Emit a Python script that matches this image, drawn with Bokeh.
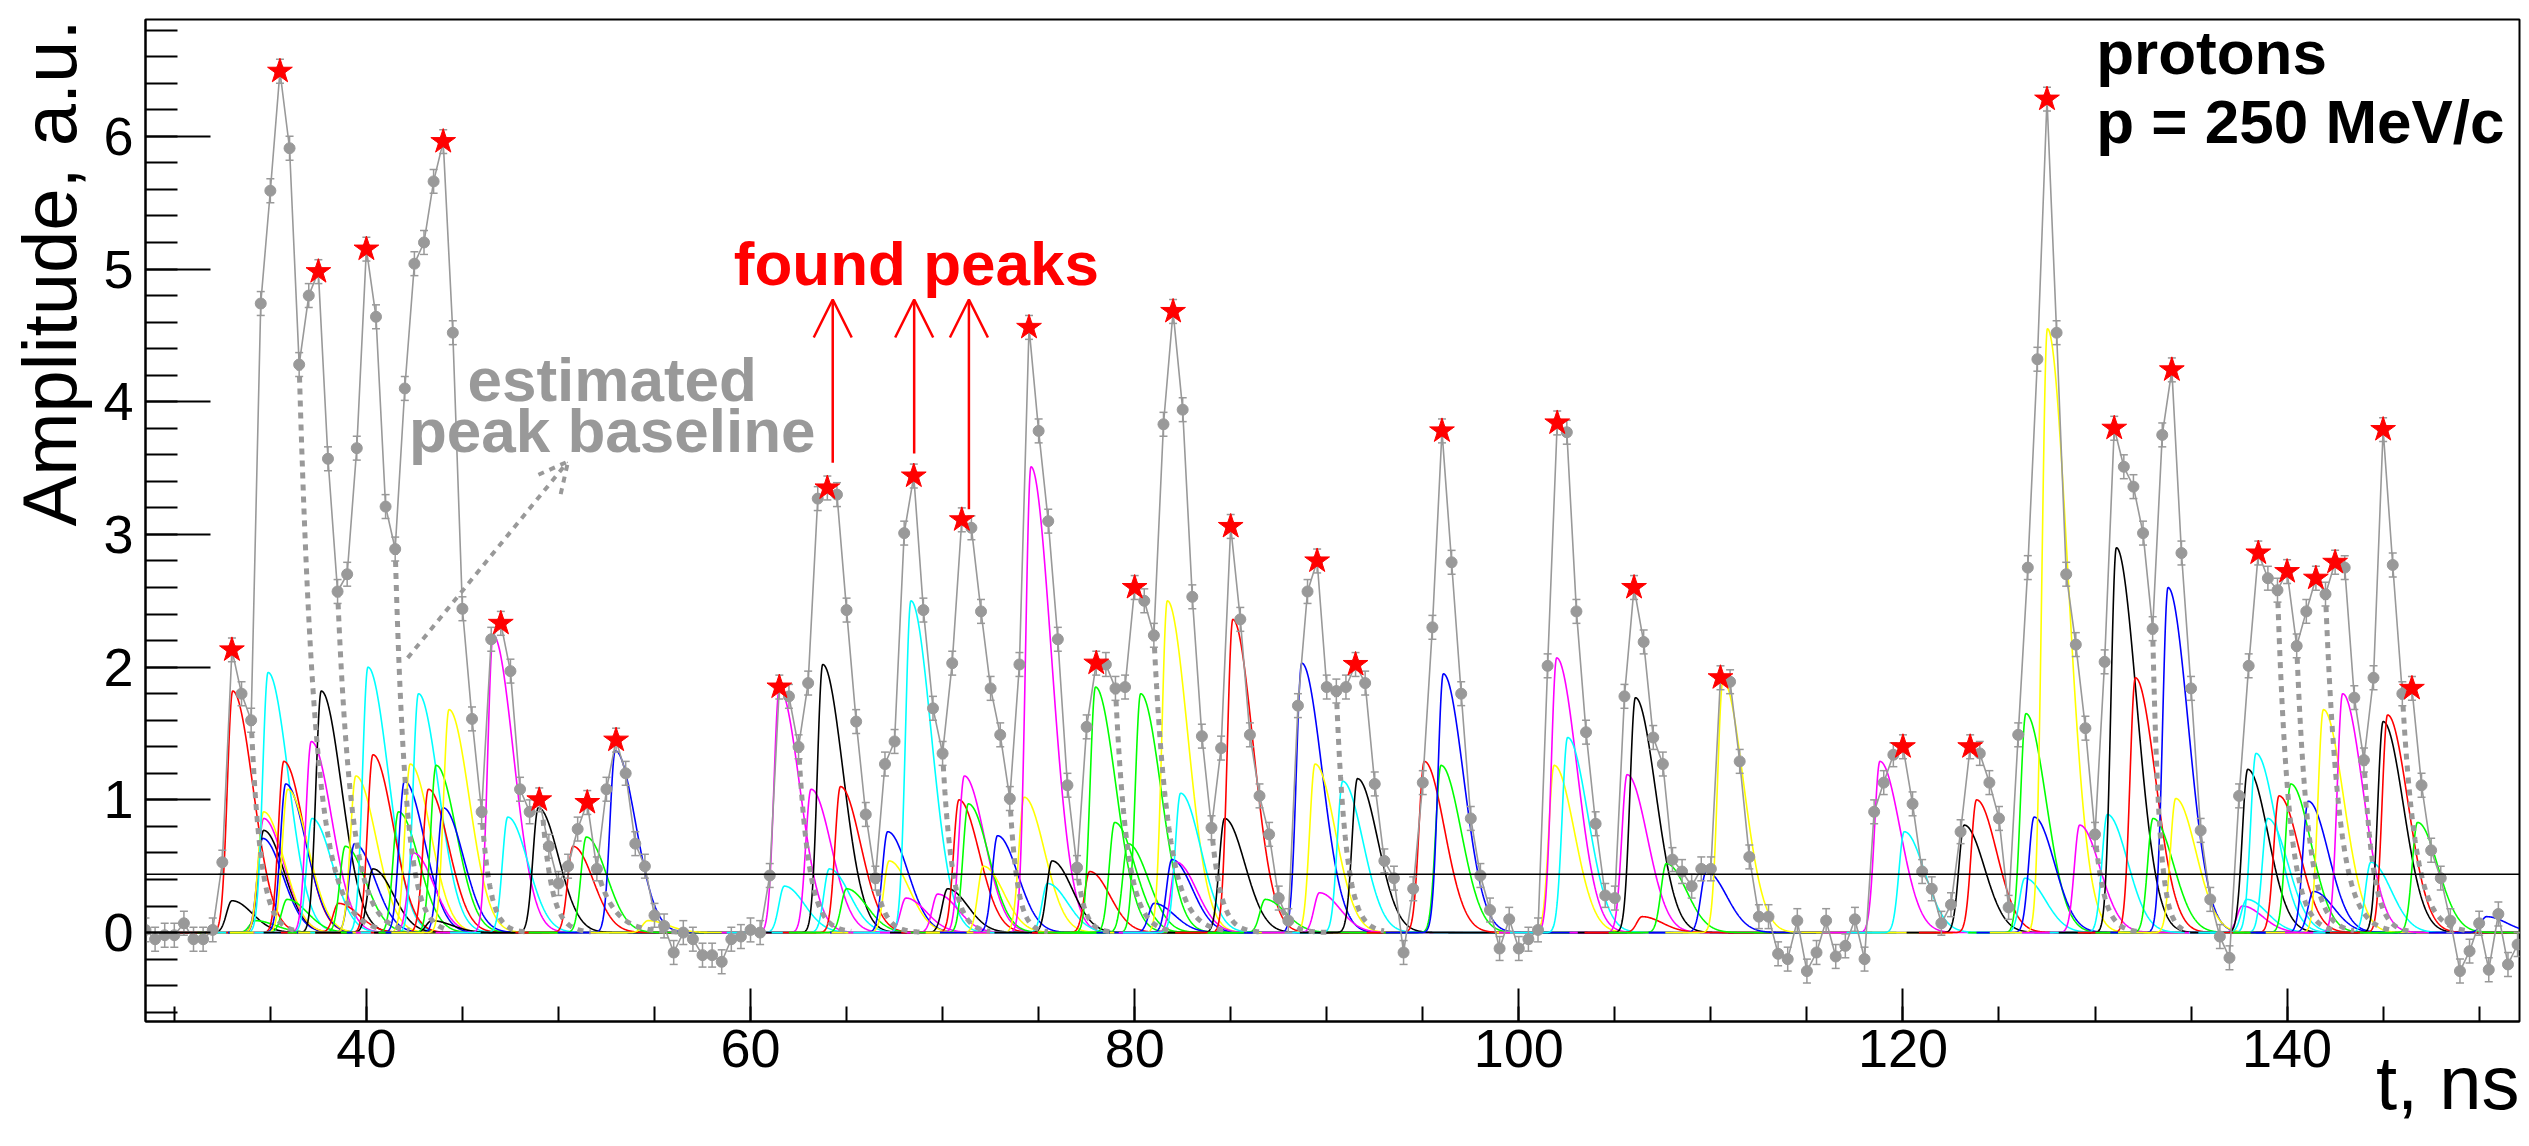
import numpy as np
from bokeh.plotting import figure
from bokeh.models import Range1d, SingleIntervalTicker, Span, Label, Arrow, OpenHead, Title
from bokeh.embed import file_html
from bokeh.resources import INLINE

# ---------------- data ----------------
t_start, t_step = 28.5, 0.5
amp = [
    0.02, -0.05, -0.02,
    -0.02, 0.07, -0.05, -0.05, 0.02, 0.53, 2.13, 1.80, 1.60, 4.74,
    5.59, 6.49, 5.91, 4.28, 4.80, 4.98, 3.57, 2.57, 2.70, 3.65,
    5.15, 4.64, 3.21, 2.89, 4.10, 5.04, 5.20, 5.66, 5.96, 4.52,
    2.44, 1.61, 0.91, 2.21, 2.33, 1.97, 1.08, 0.91, 1.00, 0.65,
    0.37, 0.50, 0.78, 0.98, 0.48, 1.08, 1.45, 1.20, 0.67, 0.50,
    0.13, 0.05, -0.15, 0.00, -0.05, -0.17, -0.17, -0.22, -0.05, -0.03,
    0.02, 0.00, 0.43, 1.85, 1.78, 1.40, 1.88, 3.27, 3.35, 3.30,
    2.43, 1.59, 0.89, 0.41, 1.27, 1.44, 3.01, 3.44, 2.43, 1.69,
    1.35, 2.03, 3.11, 3.05, 2.42, 1.84, 1.49, 1.01, 2.02, 4.56,
    3.78, 3.10, 2.21, 1.11, 0.49, 1.55, 2.03, 2.02, 1.84, 1.85,
    2.60, 2.50, 2.24, 3.83, 4.68, 3.94, 2.53, 1.48, 0.79, 1.39,
    3.06, 2.36, 1.49, 1.03, 0.74, 0.26, 0.09, 1.71, 2.57, 2.80,
    1.85, 1.82, 1.85, 2.02, 1.88, 1.12, 0.54, 0.41, -0.15, 0.33,
    1.13, 2.30, 3.78, 2.79, 1.80, 0.86, 0.43, 0.17, -0.12, 0.10,
    -0.12, -0.05, 0.02, 2.01, 3.84, 3.77, 2.42, 1.51, 0.82, 0.28,
    0.26, 1.78, 2.60, 2.19, 1.47, 1.27, 0.55, 0.46, 0.35, 0.48,
    0.48, 1.92, 1.89, 1.29, 0.57, 0.12, 0.12, -0.16, -0.20, 0.09,
    -0.29, -0.15, 0.09, -0.18, -0.10, 0.10, -0.20, 0.91, 1.13, 1.34,
    1.40, 0.97, 0.46, 0.33, 0.07, 0.21, 0.76, 1.40, 1.35, 1.13,
    0.86, 0.19, 1.49, 2.75, 4.32, 6.28, 4.52, 2.70, 2.17, 1.54,
    0.74, 2.04, 3.80, 3.51, 3.36, 3.01, 2.29, 3.75, 4.24, 2.86,
    1.84, 0.77, 0.25, -0.03, -0.19, 1.03, 2.01, 2.86, 2.67, 2.58,
    2.72, 2.16, 2.42, 2.67, 2.55, 2.79, 2.75, 1.77, 1.30, 1.92,
    3.79, 2.77, 1.80, 1.84, 1.11, 0.62, 0.41, 0.09, -0.29, -0.14,
    0.07, -0.28, 0.14, -0.24, -0.09,
]
amp_err = 0.09

# found peaks (times)
peak_t = [33.0, 35.5, 37.5, 40.0, 44.0, 47.0, 49.0, 51.5, 53.0, 61.5, 64.0,
          68.5, 71.0, 74.5, 78.0, 80.0, 82.0, 85.0, 89.5, 91.5, 96.0, 102.0,
          106.0, 110.5, 120.0, 123.5, 127.5, 131.0, 134.0, 138.5, 140.0,
          141.5, 142.5, 145.0, 146.5]

# fitted single-peak components: peak time, amplitude, colour
comp_t = [33.0, 33.04, 34.2, 34.6, 34.65, 34.65, 34.65, 34.88, 35.7, 35.8,
          35.87, 35.9, 37.13, 37.17, 37.65, 38.55, 38.9, 39.38, 39.45, 40.08,
          40.34, 40.34, 41.67, 41.98, 42.28, 42.45, 42.71, 43.23, 43.4, 43.63,
          44.0, 44.3, 46.6, 47.36, 48.95, 50.76, 51.45, 52.96, 54.66, 61.5,
          61.76, 63.15, 63.76, 64.1, 64.68, 65.0, 67.14, 67.22, 68.09, 68.35,
          69.74, 70.26, 70.85, 71.13, 71.34, 72.12, 72.86, 74.25, 74.6, 75.46,
          75.7, 77.66, 77.96, 78.96, 79.65, 80.31, 81.01, 81.7, 81.94, 82.17,
          82.39, 84.68, 85.11, 86.8, 88.7, 89.39, 89.62, 90.83, 91.6, 95.08,
          95.95, 96.07, 101.84, 101.97, 102.54, 105.64, 106.07, 106.42, 107.68,
          109.76, 110.63, 118.8, 120.07, 123.19, 123.83, 126.35, 126.4, 126.83,
          127.52, 129.2, 130.64, 131.11, 132.1, 133.02, 133.8, 134.2, 137.67,
          137.9, 137.95, 138.38, 138.99, 139.58, 140.19, 141.1, 141.37, 141.89,
          142.89, 144.36, 145.0, 145.23, 146.79, 150.38]
comp_a = [0.24, 1.82, 0.09, 0.71, 0.77, 0.86, 0.91, 1.96, 1.29, 1.12,
          0.25, 1.08, 1.44, 0.86, 1.82, 0.22, 0.65, 0.67, 1.18, 2.00,
          1.34, 0.48, 0.91, 1.14, 1.27, 0.60, 1.80, 1.08, 0.09, 1.26,
          0.94, 1.68, 2.24, 0.87, 0.94, 0.65, 0.72, 1.37, 0.09, 1.84,
          0.35, 1.08, 2.02, 0.48, 1.10, 0.33, 0.76, 0.54, 0.26, 2.50,
          0.29, 0.33, 1.00, 1.18, 0.97, 0.50, 0.73, 1.02, 3.51, 0.37,
          0.54, 0.46, 1.85, 0.83, 0.67, 1.80, 0.22, 2.50, 0.55, 0.53,
          1.05, 0.86, 2.36, 0.25, 2.03, 1.27, 0.30, 1.14, 1.16, 1.29,
          1.26, 1.95, 1.26, 2.07, 1.47, 1.19, 1.77, 0.12, 0.52,
          0.46, 1.90, 1.29, 0.76, 0.81, 1.00, 0.41, 1.65, 0.87,
          4.55, 0.81, 0.89, 2.90, 1.92, 0.86, 2.60, 1.01, 0.20,
          0.25, 1.23, 1.35, 0.86, 1.03, 1.12, 0.99, 0.31, 1.68,
          1.80, 0.53, 1.59, 1.64, 0.83, 0.12]
comp_col = ["black", "red", "green", "blue", "black", "magenta", "yellow", "cyan", "red", "blue",
            "green", "yellow", "magenta", "cyan", "black", "red", "green", "blue", "yellow", "cyan",
            "red", "black", "green", "blue", "yellow", "magenta", "cyan", "red", "black", "green",
            "blue", "yellow", "magenta", "cyan", "black", "red", "green", "blue", "yellow", "magenta",
            "cyan", "magenta", "black", "cyan", "red", "green", "blue", "yellow", "magenta", "cyan",
            "magenta", "black", "red", "magenta", "green", "yellow", "blue", "yellow", "magenta", "cyan",
            "black", "red", "green", "green", "green", "green", "blue", "yellow", "blue", "magenta",
            "cyan", "black", "red", "green", "blue", "yellow", "magenta", "cyan", "black", "red",
            "green", "blue", "yellow", "magenta", "cyan", "magenta", "black", "red", "green",
            "blue", "yellow", "magenta", "cyan", "black", "red", "cyan", "green", "blue",
            "yellow", "magenta", "cyan", "black", "red", "green", "blue", "yellow", "magenta",
            "cyan", "black", "cyan", "cyan", "red", "green", "blue", "blue", "yellow",
            "magenta", "cyan", "black", "red", "green", "blue"]

# estimated peak baselines: start time, start value, decay time
base_t0 = [34.0, 36.5, 38.5, 41.5, 46.0, 49.2, 52.0, 62.5, 66.5, 70.0, 73.5, 77.0,
           79.0, 81.0, 84.0, 87.5, 90.5, 130.0, 133.0, 139.5, 140.5, 142.0, 144.0, 146.0]
base_v0 = [1.60, 4.28, 2.57, 2.89, 0.91, 0.85, 0.48, 1.40, 0.41, 1.35, 1.01, 0.49,
           1.84, 2.24, 0.79, 0.26, 1.82, 0.74, 2.29, 2.58, 2.16, 2.55, 1.30, 1.80]
base_tau = [0.5, 0.85, 0.75, 0.56, 0.45, 0.5, 0.9, 0.55, 0.5, 0.5, 0.4, 0.4,
            0.6, 0.75, 0.5, 0.5, 0.5, 0.5, 0.35, 0.6, 0.6, 0.7, 0.5, 0.7]

# "found peaks" arrows
arrow_x = [64.28, 68.52, 71.37]
arrow_y0 = [3.54, 3.61, 3.19]
arrow_y1 = [4.77, 4.77, 4.77]

# ---------------- styling ----------------
COLORS = {"red": "#ff0000", "green": "#00ff00", "blue": "#0000ff", "yellow": "#ffff00",
          "magenta": "#ff00ff", "cyan": "#00ffff", "black": "#000000"}
GRAY = "#999999"
FONT = "Liberation Sans"
X0, X1 = 28.5, 152.1
Y0, Y1 = -0.67, 6.88

amp = np.array(amp)
t = t_start + t_step * np.arange(len(amp))


def pulse(tt, tp, a):
    u = tt - tp
    left = np.exp(-0.5 * (u / 0.28) ** 2)
    right = np.exp(-0.5 * (u / 1.05) ** 2)
    return a * np.where(u < 0, left, right)


p = figure(width=2529, height=1146, output_backend="svg", toolbar_location=None,
           x_range=Range1d(X0, X1), y_range=Range1d(Y0, Y1),
           min_border_left=142, min_border_right=10, min_border_top=19, min_border_bottom=125)
p.background_fill_color = "white"
p.border_fill_color = "white"
p.outline_line_color = "black"
p.outline_line_width = 2
p.xgrid.visible = False
p.ygrid.visible = False

p.xaxis.ticker = SingleIntervalTicker(interval=20, num_minor_ticks=4)
p.yaxis.ticker = SingleIntervalTicker(interval=1, num_minor_ticks=5)
for ax in (p.xaxis, p.yaxis):
    ax.major_label_text_font = FONT
    ax.major_label_text_font_size = "54px"
    ax.major_label_text_color = "black"
    ax.axis_line_color = "black"
    ax.axis_line_width = 2
    ax.major_tick_line_color = "black"
    ax.minor_tick_line_color = "black"
    ax.major_tick_line_width = 2
    ax.minor_tick_line_width = 2
    ax.major_tick_out = 0
    ax.minor_tick_out = 0
p.xaxis.major_tick_in = 33
p.xaxis.minor_tick_in = 15
p.xaxis.major_label_standoff = 8
p.yaxis.major_tick_in = 65
p.yaxis.minor_tick_in = 32
p.yaxis.major_label_standoff = 12

# axis titles, aligned to the axis ends
p.add_layout(Title(text="Amplitude, a.u.", align="right", vertical_align="top", standoff=13,
                   text_font=FONT, text_font_size="76px", text_font_style="normal",
                   text_color="black"), "left")
p.add_layout(Title(text="t, ns", align="right", vertical_align="top", standoff=-60,
                   text_font=FONT, text_font_size="76px", text_font_style="normal",
                   text_color="black"), "below")

# components
for tp, a, c in zip(comp_t, comp_a, comp_col):
    tt = np.arange(max(X0, tp - 3), min(X1, tp + 12), 0.02)
    p.line(tt, pulse(tt, tp, a), line_color=COLORS[c], line_width=1.6)

# estimated baselines
for t0, v0, tau in zip(base_t0, base_v0, base_tau):
    tt = np.arange(t0, t0 + 5 * tau, 0.02)
    p.line(tt, v0 * np.exp(-(tt - t0) / tau), line_color=GRAY, line_width=5, line_dash="6 6")

# horizontal threshold line
p.add_layout(Span(location=0.44, dimension="width", line_color="black", line_width=1.5))

# data
p.line(t, amp, line_color=GRAY, line_width=1.6)
p.segment(t, amp - amp_err, t, amp + amp_err, line_color=GRAY, line_width=1.5)
p.scatter(t, amp + amp_err, marker="dash", size=8, line_color=GRAY, line_width=1.5)
p.scatter(t, amp - amp_err, marker="dash", size=8, line_color=GRAY, line_width=1.5)
p.scatter(t, amp, marker="circle", size=11, fill_color=GRAY, line_color=GRAY)

idx = [int(np.argmin(np.abs(t - x))) for x in peak_t]
p.scatter(t[idx], amp[idx], marker="star", size=26, fill_color="red", line_color="red")

# annotations
for xa, ya0, ya1 in zip(arrow_x, arrow_y0, arrow_y1):
    p.add_layout(Arrow(end=OpenHead(size=38, line_color="red", line_width=2.5),
                       x_start=xa, y_start=ya0, x_end=xa, y_end=ya1,
                       line_color="red", line_width=2.5))

p.add_layout(Arrow(end=OpenHead(size=30, line_color=GRAY, line_width=4, line_dash="6 6"),
                   x_start=42.15, y_start=2.07, x_end=50.5, y_end=3.55,
                   line_color=GRAY, line_width=4, line_dash="6 6"))

TEXT_SHIFT = 0.12  # compensates the label baseline placement


def lab(x, y, text, size, color, style="bold", align="left"):
    p.add_layout(Label(x=x, y=y + TEXT_SHIFT, text=text, text_font=FONT, text_font_style=style,
                       text_font_size=size, text_color=color, text_align=align,
                       text_baseline="alphabetic"))


lab(59.13, 4.92, "found peaks", "62px", "red")
lab(52.8, 4.05, "estimated", "62px", GRAY, align="center")
lab(52.8, 3.66, "peak baseline", "62px", GRAY, align="center")
lab(130.06, 6.51, "protons", "62px", "black")
lab(130.06, 5.99, "p = 250 MeV/c", "62px", "black")

open("out.html", "w").write(file_html(p, INLINE))
